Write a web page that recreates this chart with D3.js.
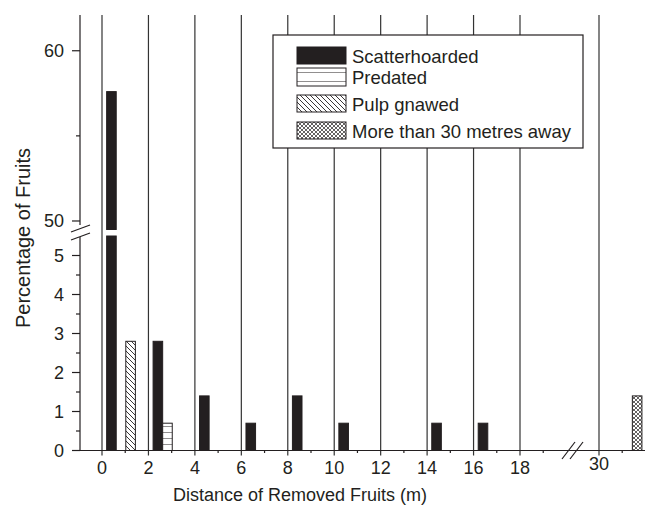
<!DOCTYPE html>
<html>
<head>
<meta charset="utf-8">
<script src="https://cdn.jsdelivr.net/npm/d3@7"></script>
<style>
  body { margin: 0; background: #fff; }
  svg { display: block; font-family: "Liberation Sans", Arial, sans-serif; }
</style>
</head>
<body>
<svg id="chart" width="645" height="512"></svg>
<script>
// data
const series = ['Scatterhoarded', 'Predated', 'Pulp gnawed', 'More than 30 metres away'];
const binStarts = [0, 2, 4, 6, 8, 10, 12, 14, 16, 18, 30];
const scatterhoarded = [57.6, 2.8, 1.4, 0.7, 1.4, 0.7, 0, 0.7, 0.7, 0, 0];
const predated = [0, 0.7, 0, 0, 0, 0, 0, 0, 0, 0, 0];
const pulpGnawed = [2.8, 0, 0, 0, 0, 0, 0, 0, 0, 0, 0];
const farAway = [0, 0, 0, 0, 0, 0, 0, 0, 0, 0, 1.4];
const xTicksLeft = [0, 2, 4, 6, 8, 10, 12, 14, 16, 18];
const xTicksRight = [30];
const yTicksLow = [0, 1, 2, 3, 4, 5];
const yTicksHigh = [50, 60];

const seriesValues = [scatterhoarded, predated, pulpGnawed, farAway];
const ink = '#231f20';

const svg = d3.select('#chart');
const defs = svg.append('defs');

// fill patterns
function hatchPattern(id, size, paths, width) {
  const p = defs.append('pattern')
    .attr('id', id)
    .attr('patternUnits', 'userSpaceOnUse')
    .attr('width', size)
    .attr('height', size);
  p.append('rect').attr('width', size).attr('height', size).attr('fill', '#fff');
  paths.forEach(d => {
    p.append('path').attr('d', d).attr('stroke', ink).attr('stroke-width', width).attr('fill', 'none');
  });
}
hatchPattern('pred', 6, ['M0,0H6'], 1);
hatchPattern('predLegend', 9, ['M0,0H9'], 1);
hatchPattern('pulp', 5, ['M0,0L5,5', 'M-1,4L1,6', 'M4,-1L6,1'], 0.9);
hatchPattern('far', 4, ['M0,0L4,4', 'M-1,3L1,5', 'M3,-1L5,1', 'M0,4L4,0', 'M-1,1L1,-1', 'M3,5L5,3'], 0.7);

const fills = {
  'Scatterhoarded': ink,
  'Predated': 'url(#pred)',
  'Pulp gnawed': 'url(#pulp)',
  'More than 30 metres away': 'url(#far)'
};

// scales (broken x and y)
const xLeft = d3.scaleLinear().domain([0, 18]).range([102, 520]);
const xRight = d3.scaleLinear().domain([30, 32]).range([599, 645.4]);
const xPos = v => v >= 30 ? xRight(v) : xLeft(v);
const slot = d3.scaleBand().domain(series).range([0.2, 1.85]).paddingInner(0);

const yLow = d3.scaleLinear().domain([0, 5.5]).range([450.5, 236]);
const yHigh = d3.scaleLinear().domain([49.5, 62.1]).range([229.5, 15]);

const axisX0 = 80;
const axisY0 = yLow(0);

// vertical grid lines at the major x ticks
svg.append('g')
  .selectAll('line')
  .data(xTicksLeft.concat(xTicksRight))
  .join('line')
  .attr('x1', d => xPos(d)).attr('x2', d => xPos(d))
  .attr('y1', 15).attr('y2', axisY0 + 5)
  .attr('stroke', '#333').attr('stroke-width', 1.2);

// bars
const bars = [];
binStarts.forEach((b, i) => {
  series.forEach((s, k) => {
    const v = seriesValues[k][i];
    if (v > 0) bars.push({ bin: b, series: s, value: v });
  });
});

const barG = svg.append('g').attr('class', 'bars');
bars.forEach(d => {
  const x0 = xPos(d.bin + slot(d.series));
  const w = xPos(d.bin + slot(d.series) + slot.bandwidth()) - x0;
  const lowTop = Math.min(d.value, 5.5);
  barG.append('rect')
    .attr('x', x0).attr('width', w)
    .attr('y', yLow(lowTop)).attr('height', yLow(0) - yLow(lowTop))
    .attr('fill', fills[d.series]).attr('stroke', ink).attr('stroke-width', 1);
  if (d.value > 49.5) {
    barG.append('rect')
      .attr('x', x0).attr('width', w)
      .attr('y', yHigh(d.value)).attr('height', yHigh(49.5) - yHigh(d.value))
      .attr('fill', fills[d.series]).attr('stroke', ink).attr('stroke-width', 1);
  }
});

// x axis
const axisG = svg.append('g').attr('stroke', ink).attr('stroke-width', 1.2);
axisG.append('line').attr('x1', axisX0).attr('x2', 645).attr('y1', axisY0).attr('y2', axisY0);
const minorX = d3.range(1, 20, 2).concat([31]);
axisG.selectAll('line.minor-x')
  .data(minorX)
  .join('line')
  .attr('class', 'minor-x')
  .attr('x1', d => xPos(d)).attr('x2', d => xPos(d))
  .attr('y1', axisY0).attr('y2', axisY0 + 2.5);
// x break marks
[0, 8].forEach(dx => {
  axisG.append('line')
    .attr('x1', 562 + dx).attr('y1', 459)
    .attr('x2', 575 + dx).attr('y2', 442);
});

svg.append('g')
  .selectAll('text')
  .data(xTicksLeft.concat(xTicksRight))
  .join('text')
  .attr('x', d => xPos(d))
  .attr('y', d => d >= 30 ? 470 : 474)
  .attr('text-anchor', 'middle')
  .attr('font-size', 18)
  .attr('fill', ink)
  .text(d => d);

// y axis (two segments)
axisG.append('line').attr('x1', axisX0).attr('x2', axisX0).attr('y1', 15).attr('y2', 225);
axisG.append('line').attr('x1', axisX0).attr('x2', axisX0).attr('y1', 237).attr('y2', axisY0);
[0, 8].forEach(dy => {
  axisG.append('line')
    .attr('x1', 71).attr('y1', 232 + dy)
    .attr('x2', 90).attr('y2', 225 + dy);
});

const majorY = yTicksLow.map(v => yLow(v)).concat(yTicksHigh.map(v => yHigh(v)));
const minorY = d3.range(0.5, 5, 1).map(v => yLow(v)).concat([yHigh(55)]);
axisG.selectAll('line.major-y')
  .data(majorY)
  .join('line')
  .attr('class', 'major-y')
  .attr('x1', axisX0 - 8).attr('x2', axisX0)
  .attr('y1', d => d).attr('y2', d => d);
axisG.selectAll('line.minor-y')
  .data(minorY)
  .join('line')
  .attr('class', 'minor-y')
  .attr('x1', axisX0 - 4).attr('x2', axisX0)
  .attr('y1', d => d).attr('y2', d => d);

svg.append('g')
  .selectAll('text')
  .data(yTicksLow.map(v => [v, yLow(v)]).concat(yTicksHigh.map(v => [v, yHigh(v)])))
  .join('text')
  .attr('x', 64)
  .attr('y', d => d[1] + 6.5)
  .attr('text-anchor', 'end')
  .attr('font-size', 18)
  .attr('fill', ink)
  .text(d => d[0]);

// axis titles
svg.append('text')
  .attr('x', 300).attr('y', 501)
  .attr('text-anchor', 'middle')
  .attr('font-size', 18)
  .attr('fill', ink)
  .text('Distance of Removed Fruits (m)');

svg.append('text')
  .attr('transform', 'translate(30,238) rotate(-90)')
  .attr('text-anchor', 'middle')
  .attr('font-size', 20)
  .attr('fill', ink)
  .text('Percentage of Fruits');

// legend
const legend = svg.append('g');
legend.append('rect')
  .attr('x', 273).attr('y', 35).attr('width', 310).attr('height', 113)
  .attr('fill', '#fff').attr('stroke', ink).attr('stroke-width', 1.2);
const rowTops = [47, 68, 95, 122];
const rowHeights = [17, 18, 17, 17];
series.forEach((s, i) => {
  legend.append('rect')
    .attr('x', 297).attr('y', rowTops[i]).attr('width', 49).attr('height', rowHeights[i])
    .attr('fill', s === 'Predated' ? 'url(#predLegend)' : fills[s])
    .attr('stroke', ink).attr('stroke-width', 1);
  legend.append('text')
    .attr('x', 352).attr('y', rowTops[i] + 16)
    .attr('font-size', 18.5)
    .attr('fill', ink)
    .text(s);
});
</script>
</body>
</html>
